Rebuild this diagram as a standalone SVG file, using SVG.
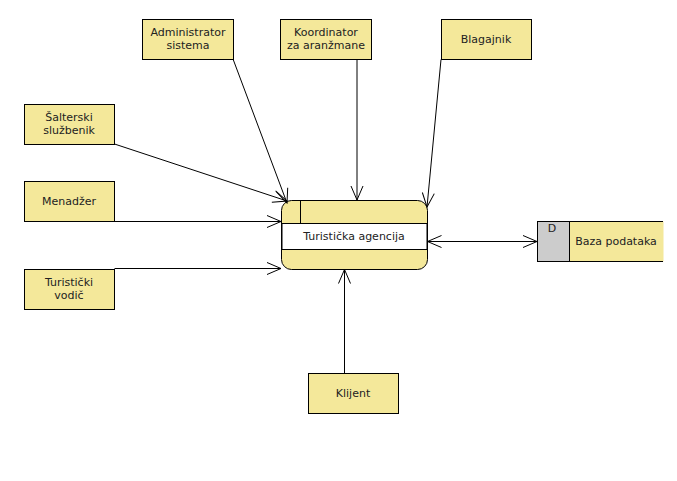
<svg xmlns="http://www.w3.org/2000/svg" width="677" height="481" viewBox="0 0 677 481">
<defs>
<marker id="arr" viewBox="0 0 16 14" refX="15" refY="7" markerWidth="16" markerHeight="14" markerUnits="userSpaceOnUse" orient="auto-start-reverse">
<path d="M1,1 L15,7 L1,13" fill="none" stroke="#000" stroke-width="1"/>
</marker>
</defs>
<style>
.box{fill:#f4e89a;stroke:#000;stroke-width:1}
.t{font-family:"DejaVu Sans",sans-serif;font-size:11px;fill:#222;text-anchor:middle}
.c{fill:none;stroke:#000;stroke-width:1;marker-end:url(#arr)}
</style>
<rect width="677" height="481" fill="#fff"/>
<g id="admin"><rect class="box" x="142.5" y="19.5" width="91" height="40"/><text class="t" x="188" y="36">Administrator</text><text class="t" x="188" y="49">sistema</text></g>
<g id="koord"><rect class="box" x="280.5" y="19.5" width="91" height="40"/><text class="t" x="326" y="36">Koordinator</text><text class="t" x="326" y="49">za aranžmane</text></g>
<g id="blag"><rect class="box" x="441.5" y="19.5" width="90" height="40"/><text class="t" x="486" y="43">Blagajnik</text></g>
<g id="salt"><rect class="box" x="24.5" y="104.5" width="90" height="40"/><text class="t" x="69" y="121">Šalterski</text><text class="t" x="69" y="134">službenik</text></g>
<g id="men"><rect class="box" x="24.5" y="181.5" width="90" height="40"/><text class="t" x="69" y="205">Menadžer</text></g>
<g id="vod"><rect class="box" x="24.5" y="269.5" width="90" height="40"/><text class="t" x="69" y="286">Turistički</text><text class="t" x="69" y="299">vodič</text></g>
<g id="klij"><rect class="box" x="308.5" y="373.5" width="90" height="40"/><text class="t" x="353" y="397">Klijent</text></g>
<g id="proc">
<rect class="box" x="281.5" y="200.5" width="146" height="69" rx="10" ry="10"/>
<rect x="282" y="223.5" width="145" height="26" fill="#fff" stroke="#000"/>
<line x1="300.5" y1="200.5" x2="300.5" y2="223.5" stroke="#000"/>
<text class="t" x="354" y="240">Turistička agencija</text>
</g>
<g id="baza">
<rect x="537.5" y="221.5" width="126" height="40" fill="#f4e89a" stroke="none"/>
<rect x="537.5" y="221.5" width="32" height="40" fill="#cccccc" stroke="#000"/>
<line x1="569.5" y1="221.5" x2="663" y2="221.5" stroke="#000"/>
<line x1="569.5" y1="261.5" x2="663" y2="261.5" stroke="#000"/>
<text class="t" x="552" y="232">D</text>
<text class="t" x="616" y="245">Baza podataka</text>
</g>
<g id="connectors">
<line class="c" x1="233" y1="59" x2="287" y2="203"/>
<line class="c" x1="357" y1="59.5" x2="357" y2="200"/>
<line class="c" x1="441" y1="59.5" x2="427" y2="207"/>
<line class="c" x1="114.5" y1="144" x2="287" y2="201"/>
<line class="c" x1="114.5" y1="221.5" x2="281" y2="221.5"/>
<line class="c" x1="114.5" y1="268.5" x2="281" y2="268.5"/>
<line class="c" x1="344.5" y1="373" x2="344.5" y2="269.5"/>
<line class="c" x1="427.5" y1="241.5" x2="537" y2="241.5" style="marker-start:url(#arr)"/>
</g>
</svg>
